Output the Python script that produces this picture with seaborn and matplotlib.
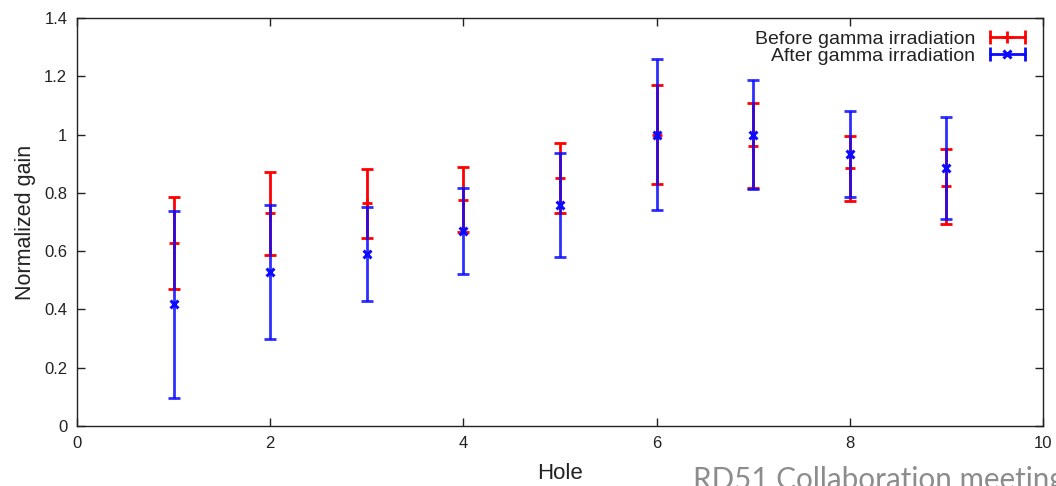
import matplotlib
matplotlib.use("Agg")
import matplotlib.pyplot as plt
import seaborn as sns
import pandas as pd
from matplotlib.lines import Line2D
from matplotlib.legend_handler import HandlerLine2D
from matplotlib.ticker import FuncFormatter, MultipleLocator

# Normalized gain per hole, before and after gamma irradiation
holes = [1, 2, 3, 4, 5, 6, 7, 8, 9]
gain_before = [0.628, 0.730, 0.764, 0.777, 0.852, 1.000, 0.962, 0.884, 0.822]
err_before = [0.158, 0.142, 0.118, 0.111, 0.120, 0.170, 0.145, 0.112, 0.130]
gain_after = [0.417, 0.527, 0.590, 0.669, 0.758, 1.000, 1.000, 0.933, 0.886]
err_after = [0.322, 0.230, 0.160, 0.147, 0.179, 0.258, 0.187, 0.148, 0.175]
labels = ["Before gamma irradiation", "After gamma irradiation"]

sns.set_style("ticks")
plt.rcParams["font.family"] = ["Liberation Sans", "DejaVu Sans"]

RED = "#ff0000"
BLUE = "#0a0aff"
LW = 2.0
TEXT = "#222222"

fig = plt.figure(figsize=(10.56, 4.86), dpi=100)
W, H = 1056, 486
ax = fig.add_axes([77 / W, 1 - 426 / H, (1043 - 77) / W, (426 - 18) / H])

df = pd.DataFrame({
    "hole": holes * 2,
    "gain": gain_before + gain_after,
    "err": err_before + err_after,
    "series": [labels[0]] * len(holes) + [labels[1]] * len(holes),
})
before = df[df["series"] == labels[0]]
after = df[df["series"] == labels[1]]

ax.errorbar(before["hole"], before["gain"], yerr=before["err"], fmt="none",
            ecolor=RED, elinewidth=LW, capsize=4.2, capthick=LW, zorder=2)
sns.scatterplot(data=before, x="hole", y="gain", marker="+", s=55, color=RED,
                linewidth=LW, ax=ax, legend=False, zorder=3)
ax.errorbar(after["hole"], after["gain"], yerr=after["err"], fmt="none",
            ecolor=BLUE, elinewidth=LW, capsize=4.2, capthick=LW, alpha=0.85, zorder=4)
sns.scatterplot(data=after, x="hole", y="gain", marker="x", s=32, color=BLUE,
                linewidth=2.2, ax=ax, legend=False, zorder=5)

ax.set_xlim(0, 10)
ax.set_ylim(0, 1.4)
ax.xaxis.set_major_locator(MultipleLocator(2))
ax.yaxis.set_major_locator(MultipleLocator(0.2))
fmt = FuncFormatter(lambda v, _: f"{v:g}")
ax.xaxis.set_major_formatter(fmt)
ax.yaxis.set_major_formatter(fmt)
ax.tick_params(direction="in", length=6, width=1, top=True, right=True,
               labelsize=12, pad=7, colors="#222222", labelcolor=TEXT)
for sp in ax.spines.values():
    sp.set_visible(True)
    sp.set_linewidth(1.0)
    sp.set_color("#222222")

ax.set_xlabel("Hole", fontsize=16, color=TEXT, labelpad=9)
ax.set_ylabel("Normalized gain", fontsize=15.5, color=TEXT, labelpad=6)

# gnuplot-style legend keys: horizontal bar with end caps and the point marker
red_bar = Line2D([], [], color=RED, lw=LW, marker="|", markersize=10, mew=LW)
red_pt = Line2D([], [], color=RED, ls="none", marker="+", markersize=8, mew=LW)
blue_bar = Line2D([], [], color=BLUE, lw=LW, marker="|", markersize=10, mew=LW)
blue_pt = Line2D([], [], color=BLUE, ls="none", marker="x", markersize=6, mew=2.2)
hmap = {
    red_bar: HandlerLine2D(numpoints=2), blue_bar: HandlerLine2D(numpoints=2),
    red_pt: HandlerLine2D(numpoints=1), blue_pt: HandlerLine2D(numpoints=1),
}
leg = ax.legend([(red_bar, red_pt), (blue_bar, blue_pt)], labels, handler_map=hmap,
                loc="upper right", frameon=False, markerfirst=False, fontsize=14,
                handlelength=2.4, handletextpad=0.45, labelspacing=-0.05,
                borderaxespad=0.45, borderpad=0.2)
for t in leg.get_texts():
    t.set_color(TEXT)

fig.text(693 / W, -3 / H, "RD51 Collaboration meeting", fontsize=21.3,
         color="#8c8c8c", family=["Lato", "DejaVu Sans"], ha="left", va="baseline")

fig.savefig("out.png", dpi=100)
